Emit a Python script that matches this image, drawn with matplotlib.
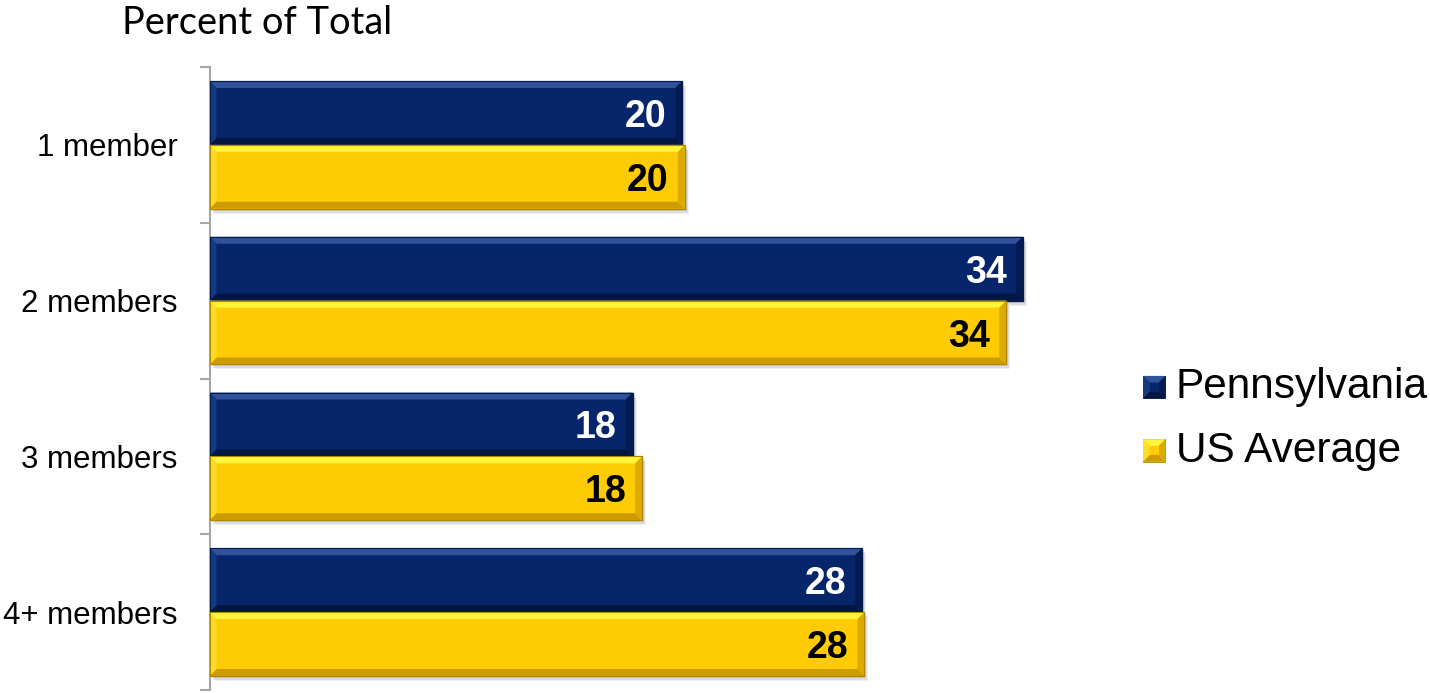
import matplotlib
matplotlib.use("Agg")
import matplotlib.pyplot as plt
from matplotlib.patches import Polygon, Rectangle
from matplotlib.transforms import IdentityTransform
from matplotlib.legend_handler import HandlerBase

# ---- data -------------------------------------------------------------
categories = ["1 member", "2 members", "3 members", "4+ members"]
pennsylvania = [20.0, 34.4, 17.9, 27.6]
us_average = [20.1, 33.7, 18.3, 27.7]
series_names = ["Pennsylvania", "US Average"]
title = "Percent of Total"

# ---- style ------------------------------------------------------------
NAVY = dict(face="#06256A", top="#30529A", left="#163A82",
            bottom="#021642", right="#041B52", edge="#021A4D", text="white")
GOLD = dict(face="#FFCB05", top="#FFF43A", left="#FFDD28",
            bottom="#CE9C00", right="#DDAA00", edge="#B08800", text="black")
SPINE = "#A6A6A6"

W, H, DPI = 1430, 693, 100
PX = 72.0 / DPI  # points per pixel

fig = plt.figure(figsize=(W / DPI, H / DPI), dpi=DPI)
ax = fig.add_axes([209.5 / W, 3 / H, (1108 - 209.5) / W, 623 / H])

n = len(categories)
ypos = list(range(n))
bar_h = 0.41

ax.set_xlim(0, 38)
ax.set_ylim(n - 0.5, -0.5)


def bevel_polys(x0, y0, x1, y1, c, b):
    """Four trapezoids forming a raised edge inside the box (display coords)."""
    return [
        ([(x0, y1), (x1, y1), (x1 - b, y1 - b), (x0 + b, y1 - b)], c["top"]),
        ([(x0, y0), (x1, y0), (x1 - b, y0 + b), (x0 + b, y0 + b)], c["bottom"]),
        ([(x0, y0), (x0, y1), (x0 + b, y1 - b), (x0 + b, y0 + b)], c["left"]),
        ([(x1, y0), (x1, y1), (x1 - b, y1 - b), (x1 - b, y0 + b)], c["right"]),
    ]


def draw_series(values, offset, c):
    bars = ax.barh([y + offset for y in ypos], values, height=bar_h,
                   color=c["face"], edgecolor=c["edge"], linewidth=0.8,
                   zorder=2)
    for rect, v in zip(bars, values):
        (x0, y0), (x1, y1) = ax.transData.transform(
            [(rect.get_x(), rect.get_y() + rect.get_height()),
             (rect.get_x() + rect.get_width(), rect.get_y())])
        # soft drop shadow
        for dx, dy, a in [(4, -5, 0.06), (3, -4, 0.08), (2, -2, 0.10)]:
            ax.add_artist(Rectangle((x0 + dx, y0 + dy), x1 - x0, y1 - y0,
                                    facecolor="black", alpha=a, lw=0,
                                    transform=IdentityTransform(), zorder=1))
        for pts, col in bevel_polys(x0, y0, x1, y1, c, 7):
            ax.add_artist(Polygon(pts, closed=True, facecolor=col, lw=0,
                                  transform=IdentityTransform(), zorder=3))
        ax.add_artist(Rectangle((x0, y0), x1 - x0, y1 - y0, fill=False,
                                edgecolor=c["edge"], lw=0.8,
                                transform=IdentityTransform(), zorder=3))
        ax.annotate(f"{v:.0f}", xy=(v, rect.get_y() + rect.get_height() / 2),
                    xytext=(-16 * PX, -14 * PX), textcoords="offset points",
                    ha="right", va="baseline", color=c["text"],
                    fontsize=27, fontweight="bold", family="Liberation Sans",
                    zorder=4)
    return bars


b1 = draw_series(pennsylvania, -bar_h / 2, NAVY)
b2 = draw_series(us_average, bar_h / 2, GOLD)

# ---- axes -------------------------------------------------------------
for s in ["top", "right", "bottom"]:
    ax.spines[s].set_visible(False)
ax.spines["left"].set_color(SPINE)
ax.spines["left"].set_linewidth(1.5)
ax.set_xticks([])
ax.set_yticks([i - 0.5 for i in range(n + 1)])
ax.set_yticklabels([])
ax.tick_params(axis="y", which="major", direction="out", length=10 * PX,
               width=1.5, color=SPINE)
ax.set_yticks(ypos, minor=True)
ax.set_yticklabels(categories, minor=True, fontsize=22.5,
                   family="Liberation Sans")
ax.tick_params(axis="y", which="minor", length=0, pad=32 * PX)

fig.text(122 / W, 1 - 34 / H, title, fontsize=27.4, family="Lato",
         ha="left", va="baseline")


# ---- legend -----------------------------------------------------------
class BevelHandler(HandlerBase):
    def __init__(self, colors):
        super().__init__()
        self.c = colors

    def create_artists(self, legend, orig_handle, xdescent, ydescent,
                       width, height, fontsize, trans):
        side = width
        x0, y0 = -xdescent, -ydescent
        x1, y1 = x0 + side, y0 + side
        c = self.c
        arts = [Rectangle((x0, y0), side, side, facecolor=c["face"],
                          edgecolor=c["edge"], lw=0.6, transform=trans)]
        b = side * 0.3
        for pts, col in bevel_polys(x0, y0, x1, y1, c, b):
            arts.append(Polygon(pts, closed=True, facecolor=col, lw=0,
                                transform=trans))
        arts.append(Rectangle((x0 + b, y0 + b), side - 2 * b, side - 2 * b,
                              facecolor=c["face"], lw=0, transform=trans))
        return arts


h1 = Rectangle((0, 0), 1, 1)
h2 = Rectangle((0, 0), 1, 1)
leg = fig.legend([h1, h2], series_names, loc="center left",
                 bbox_to_anchor=(1143 / W, 1 - 419 / H),
                 frameon=False,
                 prop={"family": "Liberation Sans", "size": 30.5},
                 handler_map={h1: BevelHandler(NAVY), h2: BevelHandler(GOLD)},
                 handlelength=0.53, handleheight=0.7, handletextpad=0.24,
                 labelspacing=0.55, borderpad=0, borderaxespad=0)

fig.savefig("out.png", dpi=DPI)
